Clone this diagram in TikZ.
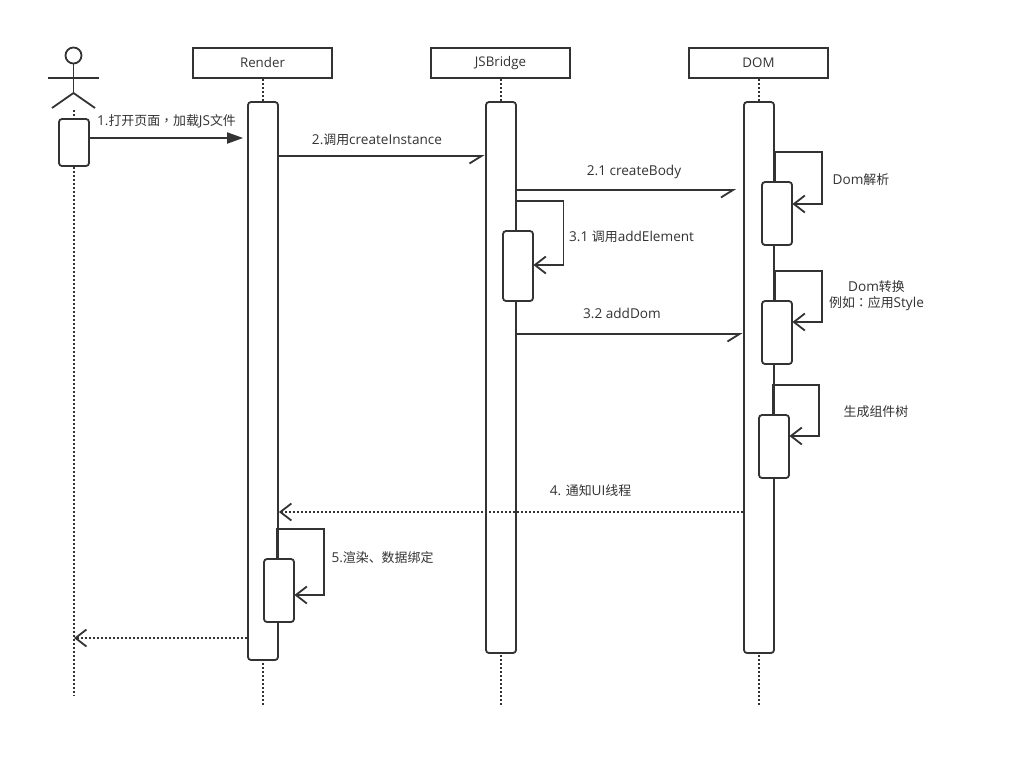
\documentclass[tikz,border=0pt]{standalone}
\usepackage{fontspec}
\setmainfont{Open Sans}
\newfontfamily\cjk[Scale=0.95]{Noto Sans CJK SC}
\newfontfamily\cjkp[Scale=0.95]{Noto Sans CJK TC}
\usetikzlibrary{arrows.meta,calc}
\definecolor{ink}{HTML}{333333}
\tikzset{
  ln/.style={draw=ink,line width=1.8pt},
  head/.style={draw=ink,line width=2.1pt,rectangle,fill=white,minimum width=139pt,minimum height=30pt,inner sep=0pt,text=ink,font=\fontsize{13.3}{15}\selectfont},
  act/.style={ln,rectangle,rounded corners=3pt,fill=white,minimum width=30pt,inner sep=0pt},
  life/.style={draw=ink,line width=2pt,dash pattern=on 2pt off 2pt},
  lbl/.style={text=ink,inner sep=0pt,align=center,font=\fontsize{13.6}{16}\selectfont},
  solidtip/.style={ln,-{Triangle[length=16pt,width=11pt,fill=ink]}},
  halftip/.style={ln,-{Straight Barb[right,length=12pt,width=15pt,line width=1.8pt]}},
  opentip/.style={ln,-{Straight Barb[length=11pt,width=17pt,line width=1.8pt]}},
  dotmsg/.style={opentip,dash pattern=on 2pt off 2pt},
}
\begin{document}
\begin{tikzpicture}[x=1pt,y=-1pt]
\useasboundingbox[fill=white] (0,0) rectangle (1019,769);
% end points of the lifelines and message levels
\coordinate (uend) at (74,696);
\coordinate (rend) at (263,705);
\coordinate (jend) at (501,705);
\coordinate (dend) at (759,705);
\coordinate (m1) at (0,138);
\coordinate (m2) at (0,156);
\coordinate (m3) at (0,190);
\coordinate (m4) at (0,334);
\coordinate (m5) at (0,512);
\coordinate (m6) at (0,638);
% heads
\node[head] (rh) at (262.5,63) {Render};
\node[head] (jh) at (500.5,63) {JSBridge};
\node[head] (dh) at (758.5,63) {DOM};
% actor
\node[ln,circle,minimum size=16pt,inner sep=0pt] (uhead) at (73.5,55.5) {};
\coordinate (uhip) at (73.5,93);
\coordinate (uarml) at (48,77.6);
\coordinate (uarmr) at (99,77.6);
\coordinate (ulegl) at (52,108);
\coordinate (ulegr) at (95,108);
\draw[ln] (uhead.south) -- (uhip);
\draw[ln] (uarml) -- (uarmr);
\draw[ln] (ulegl) -- (uhip) -- (ulegr);
\coordinate (ufoot) at (74,110);
% lifelines
\node[act,minimum height=47pt] (ua) at (74,142.5) {};
\draw[life] (ufoot) -- (ua.north);
\draw[life] (ua.south) -- (uend);
\draw[life] (rend |- rh.south) -- (rend);
\draw[life] (jend |- jh.south) -- (jend);
\draw[life] (dend |- dh.south) -- (dend);
% activations
\node[act,minimum height=558pt] (ra) at (263,381) {};
\node[act,minimum height=551pt] (ja) at (501,377.5) {};
\node[act,minimum height=551pt] (da) at (759,377.5) {};
% self-calls
\node[act,minimum height=63pt] (d1) at (777,213.5) {};
\node[act,minimum height=63pt] (d2) at (777,332.5) {};
\node[act,minimum height=63pt] (d3) at (774,446.5) {};
\node[act,minimum height=70pt] (j1) at (518,266) {};
\node[act,minimum height=63pt] (r1) at (279,590.5) {};
\draw[opentip,line join=miter] ([xshift=-1.8pt]d1.north) -- ++(0,-29) -- ++(47,0) |- ([yshift=9.5pt,xshift=-0.5pt]d1.east);
\draw[opentip,line join=miter] ([xshift=-1.8pt]d2.north) -- ++(0,-29) -- ++(47,0) |- ([yshift=10.5pt,xshift=-0.5pt]d2.east);
\draw[opentip,line join=miter] ([xshift=-1.5pt]d3.north) -- ++(0,-29) -- ++(46.5,0) |- ([yshift=10.5pt,xshift=-0.5pt]d3.east);
\draw[opentip,line join=miter] ([xshift=-2.5pt]j1.north) -- ++(0,-29.4) -- ++(48,0) |- ([yshift=1pt,xshift=-0.5pt]j1.east);
\draw[opentip,line join=miter] ([xshift=-2pt]r1.north) -- ++(0,-29) -- ++(47,0) |- ([yshift=-4.5pt,xshift=-0.5pt]r1.east);
% messages
\draw[solidtip,shorten >=4pt] (ua.east |- m1) -- (ra.west |- m1);
\draw[halftip,shorten >=0.5pt] (ra.east |- m2) -- (ja.west |- m2);
\draw[halftip,shorten >=7pt] (ja.east |- m3) -- (da.west |- m3);
\draw[halftip,shorten >=0.5pt] (ja.east |- m4) -- (da.west |- m4);
\draw[dotmsg] (da.west |- m5) -- (ra.east |- m5);
\draw[dotmsg] (ra.west |- m6) -- (uend |- m6);
% labels
\node[lbl] (l1) at (166.5,121.5) {1.{\cjk 打开页面}{\cjkp ，}{\cjk 加载}JS{\cjk 文件}};
\node[lbl] (l2) at (377,139.5) {2.{\cjk 调用}createInstance};
\node[lbl] (l3) at (634,171.5) {2.1 createBody};
\node[lbl,anchor=west] (l4) at (569,236.5) {3.1 {\cjk 调用}addElement};
\node[lbl] (l5) at (622,313.5) {3.2 addDom};
\node[lbl] (l6) at (861,179.5) {Dom{\cjk 解析}};
\node[lbl] (l7) at (876.5,295.5) {Dom{\cjk 转换}\\{\cjk 例如}{\cjkp ：}{\cjk 应用}Style};
\node[lbl] (l8) at (876,411.5) {\cjk 生成组件树};
\node[lbl] (l9) at (590.5,490.5) {4. {\cjk 通知}UI{\cjk 线程}};
\node[lbl] (l10) at (382.5,557.5) {5.{\cjk 渲染、数据绑定}};
\end{tikzpicture}
\end{document}
